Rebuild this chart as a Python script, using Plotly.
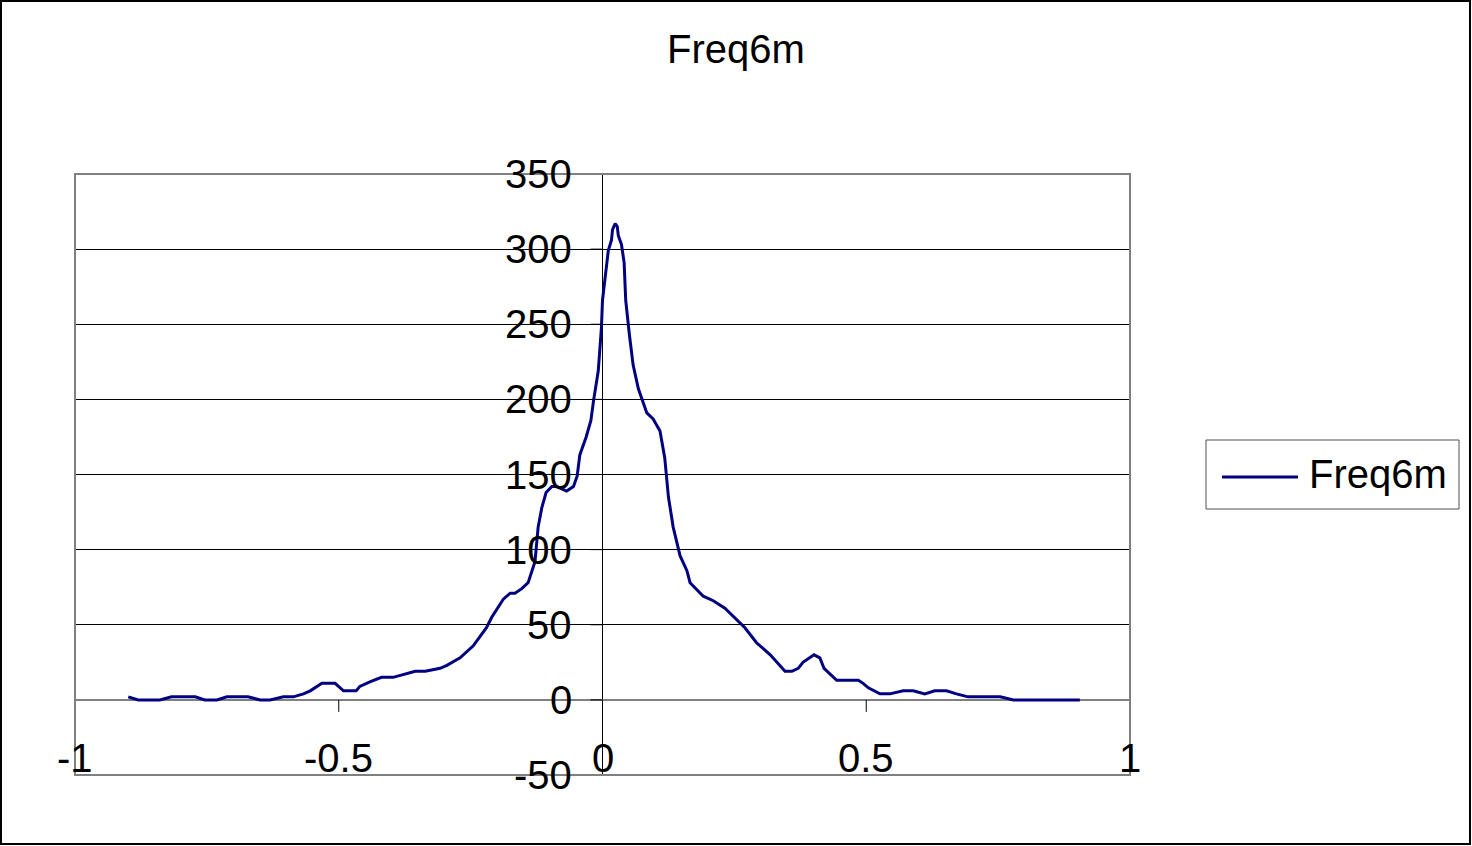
import plotly.graph_objects as go

# Freq6m distribution: x position and frequency at each vertex of the curve
x_vals = [
    -0.899, -0.880, -0.839, -0.817, -0.772, -0.754, -0.731, -0.712, -0.672, -0.649,
    -0.630, -0.605, -0.586, -0.567, -0.554, -0.532, -0.507, -0.491, -0.467, -0.460,
    -0.441, -0.419, -0.397, -0.355, -0.336, -0.308, -0.295, -0.270, -0.245, -0.220,
    -0.210, -0.188, -0.175, -0.166, -0.153, -0.141, -0.128, -0.122, -0.115, -0.107,
    -0.096, -0.087, -0.068, -0.055, -0.048, -0.043, -0.031, -0.022, -0.017, -0.008,
    -0.002, 0.000, 0.005, 0.011, 0.017, 0.019, 0.024, 0.028, 0.030, 0.036,
    0.041, 0.044, 0.051, 0.058, 0.068, 0.084, 0.096, 0.109, 0.118, 0.125,
    0.134, 0.147, 0.160, 0.166, 0.191, 0.210, 0.232, 0.270, 0.292, 0.318,
    0.346, 0.359, 0.371, 0.380, 0.401, 0.412, 0.420, 0.444, 0.485, 0.494,
    0.504, 0.526, 0.545, 0.570, 0.589, 0.611, 0.630, 0.652, 0.671, 0.693,
    0.754, 0.779, 0.905,
]
freq_vals = [
    2, 0, 0, 2, 2, 0, 0, 2, 2, 0,
    0, 2, 2, 4, 6, 11, 11, 6, 6, 9,
    12, 15, 15, 19, 19, 21, 23, 28, 36, 48,
    55, 67, 71, 71, 74, 78, 92, 115, 128, 138,
    142, 142, 139, 142, 149, 163, 175, 186, 199, 219,
    248, 266, 281, 299, 306, 313, 317, 315, 309, 303,
    291, 266, 243, 223, 207, 191, 187, 179, 161, 135,
    115, 96, 86, 78, 69, 66, 61, 48, 38, 30,
    19, 19, 21, 25, 30, 28, 21, 13, 13, 11,
    8, 4, 4, 6, 6, 4, 6, 6, 4, 2,
    2, 0, 0,
]

series_name = "Freq6m"
x_ticks = [-1, -0.5, 0, 0.5, 1]
x_tick_text = ["-1", "-0.5", "0", "0.5", "1"]
y_ticks = [-50, 0, 50, 100, 150, 200, 250, 300, 350]
y_tick_text = ["-50", "0", "50", "100", "150", "200", "250", "300", "350"]

W, H = 1472, 846
ML, MR, MT, MB = 75, 342, 174, 71
PW, PH = W - ML - MR, H - MT - MB

FONT = "Liberation Sans, Arial, sans-serif"
FS = 40
NAVY = "#000080"
GREY = "#808080"


def px_x(p):
    return (p - ML) / PW


def px_y(p):
    return (H - MB - p) / PH


fig = go.Figure()
fig.add_trace(go.Scatter(
    x=x_vals, y=freq_vals, mode="lines", name=series_name,
    line=dict(color=NAVY, width=3), showlegend=False,
))

shapes = []
annotations = []

# tick marks on the axes crossing at the origin
for v, t in zip(y_ticks, y_tick_text):
    shapes.append(dict(type="line", xref="x", yref="y", xsizemode="pixel", xanchor=0,
                       x0=-12, x1=0, y0=v, y1=v, line=dict(color="black", width=1)))
    annotations.append(dict(x=0, y=v, xref="x", yref="y", text=t,
                            showarrow=False, xanchor="right", yanchor="middle", xshift=-29,
                            font=dict(family=FONT, size=FS, color="black")))
for v, t in zip(x_ticks, x_tick_text):
    shapes.append(dict(type="line", xref="x", yref="y", ysizemode="pixel", yanchor=0,
                       y0=-12, y1=0, x0=v, x1=v, line=dict(color="black", width=1)))
    annotations.append(dict(x=v, y=0, xref="x", yref="y", text=t, showarrow=False,
                            xanchor="center", yanchor="middle", yshift=-58,
                            font=dict(family=FONT, size=FS, color="black")))

# plot area frame
shapes.append(dict(type="rect", xref="paper", yref="paper", x0=0, x1=1, y0=0, y1=1,
                   line=dict(color=GREY, width=2), layer="above"))

# chart outer border
shapes.append(dict(type="rect", xref="paper", yref="paper",
                   x0=px_x(1), x1=px_x(W - 2), y0=px_y(H - 2), y1=px_y(1),
                   line=dict(color="black", width=2)))

# legend box with a line sample
shapes.append(dict(type="rect", xref="paper", yref="paper",
                   x0=px_x(1206), x1=px_x(1459), y0=px_y(509), y1=px_y(440),
                   line=dict(color="#505050", width=1)))
shapes.append(dict(type="line", xref="paper", yref="paper",
                   x0=px_x(1222), x1=px_x(1298), y0=px_y(477), y1=px_y(477),
                   line=dict(color=NAVY, width=3)))
annotations.append(dict(x=px_x(1307), y=px_y(474), xref="paper", yref="paper",
                        text=series_name, showarrow=False, xanchor="left", yanchor="middle",
                        font=dict(family=FONT, size=FS, color="black")))

fig.update_layout(
    width=W, height=H,
    margin=dict(l=ML, r=MR, t=MT, b=MB),
    paper_bgcolor="white", plot_bgcolor="white",
    title=dict(text=series_name, x=0.5, xref="container", xanchor="center",
               y=1 - 49 / H, yref="container", yanchor="middle",
               font=dict(family=FONT, size=FS, color="black")),
    xaxis=dict(range=[-1, 1], showgrid=False, showticklabels=False, ticks="",
               zeroline=True, zerolinecolor="black", zerolinewidth=1, showline=False),
    yaxis=dict(range=[-50, 350], tickvals=y_ticks, showticklabels=False, ticks="",
               showgrid=True, gridcolor="black", gridwidth=1,
               zeroline=True, zerolinecolor=GREY, zerolinewidth=2, showline=False),
    shapes=shapes,
    annotations=annotations,
    showlegend=False,
)

fig.write_html("out.html")
